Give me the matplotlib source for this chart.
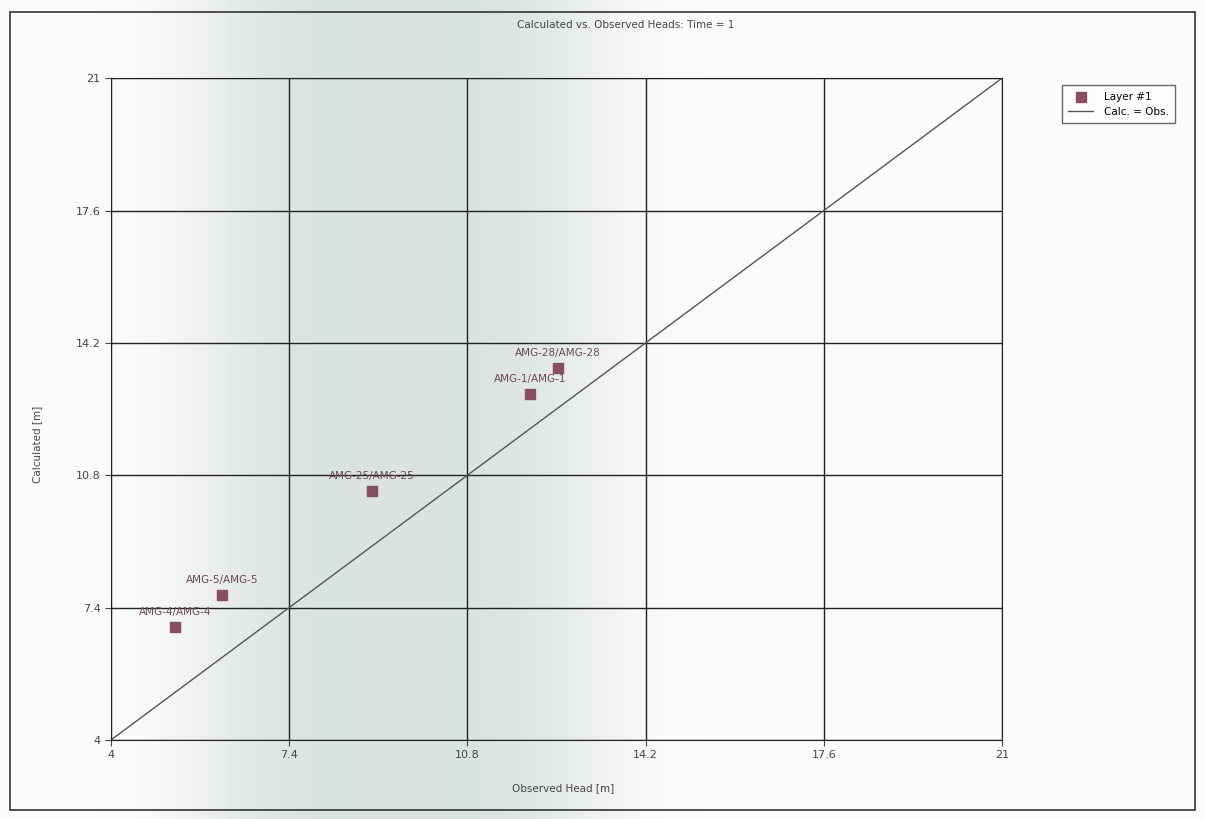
import numpy as np
import matplotlib.pyplot as plt
from matplotlib.patches import Rectangle

# observed vs calculated heads
wells = ['AMG-28/AMG-28', 'AMG-1/AMG-1', 'AMG-25/AMG-25', 'AMG-5/AMG-5', 'AMG-4/AMG-4']
observed = [12.52, 12.0, 8.98, 6.12, 5.22]
calculated = [13.56, 12.89, 10.4, 7.72, 6.91]
ticks = [4, 7.4, 10.8, 14.2, 17.6, 21]

marker_color = '#8a4f5e'

fig = plt.figure(figsize=(12.05, 8.19), dpi=100)

# faint scanner shadow behind the chart
bg = fig.add_axes([0, 0, 1, 1], zorder=-10)
bg.axis('off')
xs = np.linspace(0, 1, 400)
shade = np.clip(np.exp(-((xs - 0.33) / 0.17) ** 4), 0, 1)
col_white = np.array([0.985, 0.985, 0.985])
col_gray = np.array([0.86, 0.89, 0.875])
img = col_white[None, None, :] + (col_gray - col_white)[None, None, :] * shade[None, :, None]
bg.imshow(img, aspect='auto', extent=[0, 1, 0, 1])

# outer frame of the chart
fig.patches.append(Rectangle((0.008, 0.011), 0.984, 0.974, transform=fig.transFigure,
                             fill=False, edgecolor='#333333', linewidth=1.2))

ax = fig.add_axes([0.0921, 0.0965, 0.7394, 0.808])
ax.set_facecolor('none')
ax.set_xlim(4, 21)
ax.set_ylim(4, 21)
ax.set_xticks(ticks)
ax.set_yticks(ticks)
ax.set_xticklabels([f'{t:g}' for t in ticks])
ax.set_yticklabels([f'{t:g}' for t in ticks])
ax.tick_params(labelsize=8, colors='#444444', length=4)
ax.grid(True, color='#222222', linewidth=1)
for s in ax.spines.values():
    s.set_color('#222222')

ax.plot([4, 21], [4, 21], color='#555555', linewidth=1, label='Calc. = Obs.')
ax.scatter(observed, calculated, marker='s', s=55, color=marker_color,
           zorder=3, label='Layer #1')
for w, x, y in zip(wells, observed, calculated):
    ax.annotate(w, (x, y), xytext=(0, 7), textcoords='offset points',
                ha='center', va='bottom', fontsize=7.5, color='#6a4a52')

fig.text(0.519, 1 - 25 / 819, 'Calculated vs. Observed Heads: Time = 1', fontsize=7.5,
         color='#444444', ha='center', va='center')
fig.text(0.467, 1 - 788 / 819, 'Observed Head [m]', fontsize=7.5, color='#444444',
         ha='center', va='center')
fig.text(0.031, 0.457, 'Calculated [m]', fontsize=7.5, color='#444444',
         ha='center', va='center', rotation=90)

handles, labels = ax.get_legend_handles_labels()
leg = fig.legend(handles[::-1], labels[::-1], loc='upper left', bbox_to_anchor=(0.877, 0.902),
                 fontsize=7.5, frameon=True, fancybox=False, edgecolor='#444444',
                 handlelength=2.4, borderpad=0.6, handletextpad=1.0)
leg.get_frame().set_linewidth(1)
leg.get_frame().set_facecolor('white')

fig.savefig('out.png', dpi=100)
